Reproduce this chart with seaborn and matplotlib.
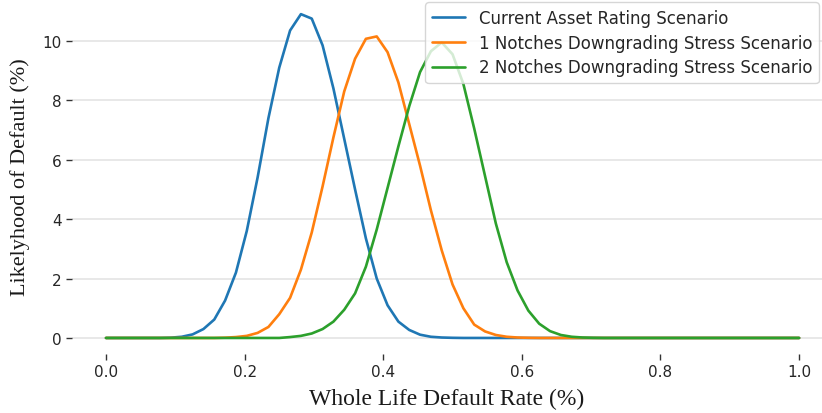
import matplotlib
matplotlib.use("Agg")
import matplotlib.pyplot as plt
import numpy as np
import pandas as pd
import seaborn as sns

# default rate grid: 65 points from 0 to 1 (step 1/64)
default_rate = np.arange(65) / 64

# likelihood of default (%), one value per grid point
current_rating = [
    0, 0, 0, 0, 0, 0, 0.01, 0.04, 0.12, 0.30,
    0.62, 1.26, 2.2, 3.6, 5.4, 7.4, 9.1, 10.35, 10.9, 10.75,
    9.85, 8.4, 6.7, 5.0, 3.35, 2.0, 1.1, 0.55, 0.27, 0.11,
    0.04, 0.015, 0.005, 0, 0, 0, 0, 0, 0, 0,
    0, 0, 0, 0, 0, 0, 0, 0, 0, 0,
    0, 0, 0, 0, 0, 0, 0, 0, 0, 0,
    0, 0, 0, 0, 0,
]
one_notch = [
    0, 0, 0, 0, 0, 0, 0, 0, 0, 0,
    0, 0.01, 0.03, 0.07, 0.17, 0.37, 0.8, 1.35, 2.3, 3.55,
    5.1, 6.75, 8.3, 9.4, 10.07, 10.15, 9.62, 8.6, 7.2, 5.8,
    4.3, 2.95, 1.8, 1.0, 0.45, 0.22, 0.1, 0.04, 0.015, 0.005,
    0, 0, 0, 0, 0, 0, 0, 0, 0, 0,
    0, 0, 0, 0, 0, 0, 0, 0, 0, 0,
    0, 0, 0, 0, 0,
]
two_notches = [
    0, 0, 0, 0, 0, 0, 0, 0, 0, 0,
    0, 0, 0, 0, 0, 0, 0, 0.03, 0.07, 0.15,
    0.3, 0.55, 0.95, 1.5, 2.4, 3.65, 5.05, 6.45, 7.8, 8.95,
    9.65, 9.95, 9.55, 8.55, 7.05, 5.45, 3.85, 2.55, 1.6, 0.92,
    0.48, 0.23, 0.1, 0.04, 0.015, 0.005, 0, 0, 0, 0,
    0, 0, 0, 0, 0, 0, 0, 0, 0, 0,
    0, 0, 0, 0, 0,
]

scenarios = [
    "Current Asset Rating Scenario",
    "1 Notches Downgrading Stress Scenario",
    "2 Notches Downgrading Stress Scenario",
]

df = pd.concat([
    pd.DataFrame({"rate": default_rate, "likelihood": current_rating, "scenario": scenarios[0]}),
    pd.DataFrame({"rate": default_rate, "likelihood": one_notch, "scenario": scenarios[1]}),
    pd.DataFrame({"rate": default_rate, "likelihood": two_notches, "scenario": scenarios[2]}),
])

sns.set_style("whitegrid", {"xtick.bottom": True, "ytick.left": True,
                            "grid.color": "#e6e6e6"})
plt.rcParams["font.family"] = ["DejaVu Sans"]

fig = plt.figure(figsize=(8.22, 4.14), dpi=100)
ax = fig.add_axes([72 / 822, 59 / 414, 750 / 822, 355 / 414])

sns.lineplot(data=df, x="rate", y="likelihood", hue="scenario", hue_order=scenarios,
             palette=["#1f77b4", "#ff7f0e", "#2ca02c"], linewidth=1.9, ax=ax)

ax.set_xlim(-0.049, 1.033)
ax.set_ylim(-0.54, 11.41)
ax.set_xticks([0.0, 0.2, 0.4, 0.6, 0.8, 1.0])
ax.set_yticks([0, 2, 4, 6, 8, 10])
ax.grid(axis="x", visible=False)
ax.grid(axis="y", linewidth=1.3)
ax.tick_params(axis="both", labelsize=11, length=4, width=1, color="#333333", labelcolor="#262626")
sns.despine(ax=ax, left=True, bottom=True, top=True, right=True)

ax.set_xlabel("Whole Life Default Rate (%)", family="Liberation Serif", fontsize=17,
              color="#1a1a1a", labelpad=6)
ax.set_ylabel("Likelyhood of Default (%)", family="Liberation Serif", fontsize=16,
              color="#1a1a1a", labelpad=9)

ax.legend(loc="upper right", bbox_to_anchor=(1.0, 1.0), borderaxespad=0.2,
          fontsize=12, labelspacing=0.4, frameon=True, framealpha=0.8, edgecolor="#cccccc")

fig.savefig("out.png", dpi=100)
